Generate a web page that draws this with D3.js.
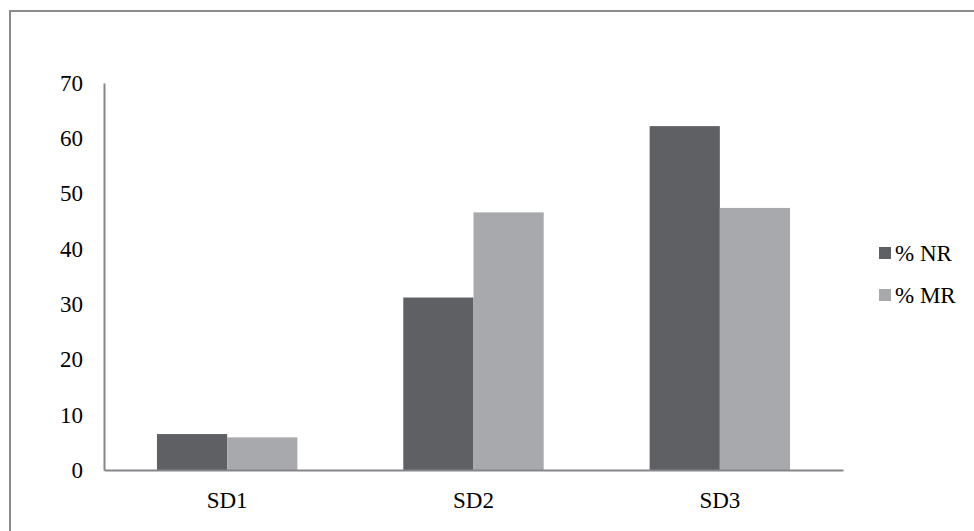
<!DOCTYPE html>
<html><head><meta charset="utf-8">
<script src="https://cdn.jsdelivr.net/npm/d3@7"></script>
<style>html,body{margin:0;padding:0;background:#fff;}</style>
</head><body>
<svg id="chart" width="974" height="531"></svg>
<script>
const categories = ["SD1", "SD2", "SD3"];
const seriesNames = ["% NR", "% MR"];
const nrValues = [6.5, 31.2, 62.2];
const mrValues = [5.9, 46.6, 47.4];
const yTicks = [0, 10, 20, 30, 40, 50, 60, 70];
const colors = ["#5f6064", "#a7a9ac"];

const svg = d3.select("#chart");
const font = "'Liberation Serif', 'Times New Roman', serif";
const fs = 23;

// outer border
svg.append("rect").attr("x", 10).attr("y", 11).attr("width", 1000).attr("height", 600)
  .attr("fill", "none").attr("stroke", "#8c8c8f").attr("stroke-width", 2);

const y = d3.scaleLinear().domain([0, 70]).range([470, 83]);
const x0 = d3.scaleBand().domain(categories).range([104, 843]).paddingInner(0.43).paddingOuter(0.215);
const x1 = d3.scaleBand().domain(seriesNames).range([0, x0.bandwidth()]).padding(0);

const series = [nrValues, mrValues];
categories.forEach((c, i) => {
  seriesNames.forEach((s, j) => {
    svg.append("rect")
      .attr("x", x0(c) + x1(s))
      .attr("y", y(series[j][i]))
      .attr("width", x1.bandwidth())
      .attr("height", y(0) - y(series[j][i]))
      .attr("fill", colors[j]);
  });
});

// y axis
const yAxis = d3.axisLeft(y).tickValues(yTicks).tickSize(0).tickPadding(21);
const gy = svg.append("g").attr("transform", "translate(104,0)").call(yAxis);
gy.select(".domain").attr("stroke", "#86868a").attr("stroke-width", 2);
gy.selectAll("text").attr("font-family", font).attr("font-size", fs).attr("fill", "#000");

// x axis
const xAxis = d3.axisBottom(x0).tickSize(0).tickPadding(22);
const gx = svg.append("g").attr("transform", "translate(0,470)").call(xAxis);
gx.select(".domain").attr("stroke", "#86868a").attr("stroke-width", 2);
gx.selectAll("text").attr("font-family", font).attr("font-size", fs).attr("fill", "#000");

// legend
const legend = svg.append("g").attr("transform", "translate(879,247)");
seriesNames.forEach((s, j) => {
  const g = legend.append("g").attr("transform", `translate(0,${j * 42})`);
  g.append("rect").attr("width", 12).attr("height", 12).attr("fill", colors[j]);
  g.append("text").attr("x", 16).attr("y", 6).attr("dy", "0.35em")
    .attr("font-family", font).attr("font-size", fs).attr("fill", "#000").text(s);
});
</script>
</body></html>
